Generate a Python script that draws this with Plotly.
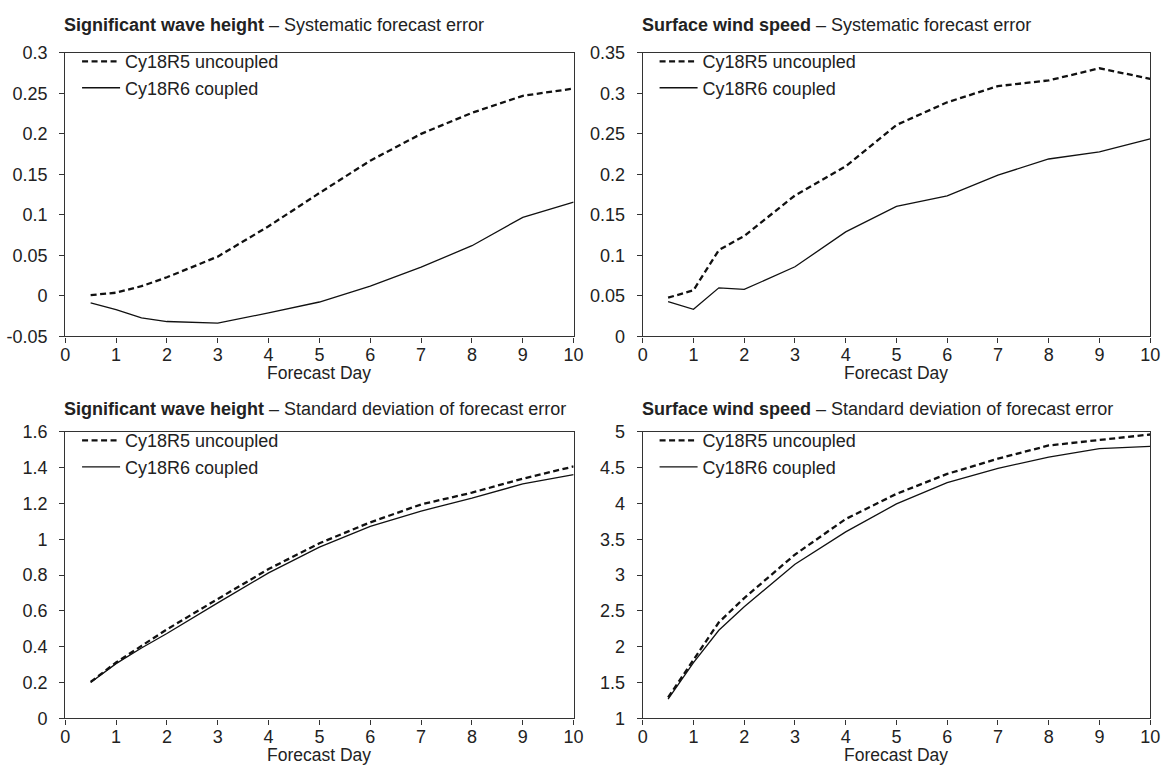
import plotly.graph_objects as go

days = [0.5, 1, 1.5, 2, 3, 4, 5, 6, 7, 8, 9, 10]

swh_bias_uncoupled = [0.001, 0.004, 0.012, 0.023, 0.0485, 0.086, 0.127, 0.167, 0.200, 0.226, 0.247, 0.256]
swh_bias_coupled = [-0.0087, -0.017, -0.027, -0.0316, -0.0335, -0.021, -0.0075, 0.012, 0.0355, 0.062, 0.097, 0.1157]

wind_bias_uncoupled = [0.0478, 0.057, 0.1066, 0.124, 0.174, 0.210, 0.261, 0.289, 0.309, 0.316, 0.331, 0.318]
wind_bias_coupled = [0.043, 0.0335, 0.060, 0.058, 0.086, 0.129, 0.1606, 0.1736, 0.199, 0.219, 0.2277, 0.2439]

swh_sd_uncoupled = [0.2036, 0.312, 0.405, 0.497, 0.667, 0.834, 0.978, 1.095, 1.195, 1.261, 1.339, 1.407]
swh_sd_coupled = [0.200, 0.306, 0.393, 0.474, 0.645, 0.8126, 0.957, 1.072, 1.158, 1.230, 1.310, 1.362]

wind_sd_uncoupled = [1.293, 1.824, 2.342, 2.680, 3.288, 3.784, 4.135, 4.414, 4.626, 4.811, 4.887, 4.964]
wind_sd_coupled = [1.270, 1.779, 2.230, 2.559, 3.153, 3.604, 3.995, 4.293, 4.491, 4.649, 4.766, 4.797]

series_names = ["Cy18R5 uncoupled", "Cy18R6 coupled"]
x_ticks = [0, 1, 2, 3, 4, 5, 6, 7, 8, 9, 10]
x_title = "Forecast Day"

panel_titles = [
    ("Significant wave height", "Systematic forecast error"),
    ("Surface wind speed", "Systematic forecast error"),
    ("Significant wave height", "Standard deviation of forecast error"),
    ("Surface wind speed", "Standard deviation of forecast error"),
]

y_ticks_1 = [-0.05, 0, 0.05, 0.1, 0.15, 0.2, 0.25, 0.3]
y_ticktext_1 = ["-0.05", "0", "0.05", "0.1", "0.15", "0.2", "0.25", "0.3"]
y_ticks_2 = [0, 0.05, 0.1, 0.15, 0.2, 0.25, 0.3, 0.35]
y_ticks_3 = [0, 0.2, 0.4, 0.6, 0.8, 1, 1.2, 1.4, 1.6]
y_ticks_4 = [1, 1.5, 2, 2.5, 3, 3.5, 4, 4.5, 5]

panels = [
    (swh_bias_uncoupled, swh_bias_coupled, [-0.05, 0.3], y_ticks_1, y_ticktext_1),
    (wind_bias_uncoupled, wind_bias_coupled, [0, 0.35], y_ticks_2, [str(v) for v in y_ticks_2]),
    (swh_sd_uncoupled, swh_sd_coupled, [0, 1.6], y_ticks_3, [str(v) for v in y_ticks_3]),
    (wind_sd_uncoupled, wind_sd_coupled, [1, 5], y_ticks_4, [str(v) for v in y_ticks_4]),
]

W, H = 1172, 782
FONT = "Liberation Sans, Arial, sans-serif"
TXT = "#222222"

# pixel boxes -> paper domains
x_doms = [(61, 576), (646, 1160)]
y_doms = [(44, 335), (433, 727)]
title_y_px = [15, 409]

def xd(px):
    return [px[0] / W, px[1] / W]

def yd(py):
    return [1 - py[1] / H, 1 - py[0] / H]

fig = go.Figure()
layout = dict(
    width=W, height=H,
    margin=dict(l=0, r=0, t=0, b=0),
    paper_bgcolor="white", plot_bgcolor="white",
    font=dict(family=FONT, size=18, color=TXT),
    showlegend=True,
    annotations=[],
)

for i, (unc, cou, yr, yt, ytt) in enumerate(panels):
    n = i + 1
    col = i % 2
    row = i // 2
    xa = "x" if n == 1 else f"x{n}"
    ya = "y" if n == 1 else f"y{n}"
    leg = "legend" if n == 1 else f"legend{n}"
    fig.add_trace(go.Scatter(
        x=days, y=unc, mode="lines", name=series_names[0],
        line=dict(color="#111111", width=2.3, dash="6px,3.5px"),
        xaxis=xa, yaxis=ya, legend=leg,
    ))
    fig.add_trace(go.Scatter(
        x=days, y=cou, mode="lines", name=series_names[1],
        line=dict(color="#111111", width=1.3),
        xaxis=xa, yaxis=ya, legend=leg,
    ))
    xdom = xd(x_doms[col])
    ydom = yd(y_doms[row])
    axis_common = dict(
        showgrid=False, zeroline=False, showline=True, linecolor="#333333",
        linewidth=1.3, mirror=True, ticks="outside", ticklen=5, tickwidth=1,
        tickcolor="#333333", tickfont=dict(family=FONT, size=18, color=TXT),
    )
    layout["xaxis" if n == 1 else f"xaxis{n}"] = dict(
        axis_common, domain=xdom, range=[0, 10], tickvals=x_ticks,
        anchor=ya, ticklabelstandoff=-3,
    )
    layout["yaxis" if n == 1 else f"yaxis{n}"] = dict(
        axis_common, domain=ydom, range=yr, tickvals=yt, ticktext=ytt,
        anchor=xa, ticklabelstandoff=8,
    )
    legend_top = 34 + row * 389
    layout[leg] = dict(
        x=xdom[0] + 12 / W, y=1 - legend_top / H,
        xanchor="left", yanchor="top",
        bgcolor="rgba(0,0,0,0)", borderwidth=0,
        font=dict(family=FONT, size=18, color=TXT),
        tracegroupgap=0, itemwidth=38,
    )
    bold, rest = panel_titles[i]
    layout["annotations"].append(dict(
        text=f"<b>{bold}</b> – {rest}", xref="paper", yref="paper",
        x=xdom[0] - 3 / W, y=1 - title_y_px[row] / H, xanchor="left", yanchor="middle",
        showarrow=False, font=dict(family=FONT, size=18, color=TXT),
    ))
    layout["annotations"].append(dict(
        text=x_title, xref="paper", yref="paper",
        x=(xdom[0] + xdom[1]) / 2, y=1 - (y_doms[row][1] + 38) / H,
        xanchor="center", yanchor="middle",
        showarrow=False, font=dict(family=FONT, size=17.5, color=TXT),
    ))

fig.update_layout(**layout)
fig.write_html("out.html", config={"displayModeBar": False},
               post_script="document.body.style.margin='0';")
